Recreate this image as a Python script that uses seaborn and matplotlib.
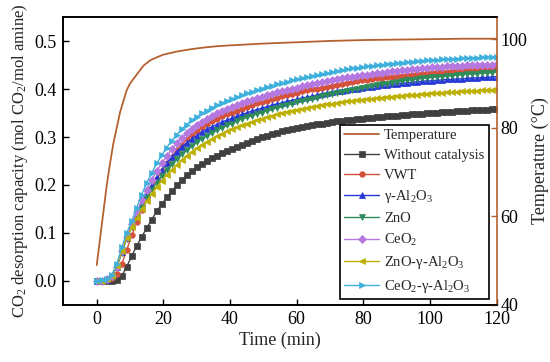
import matplotlib
matplotlib.use("Agg")
import matplotlib.pyplot as plt
import seaborn as sns
import numpy as np

sns.set_theme(style="ticks")
plt.rcParams['font.family'] = ['Liberation Serif', 'DejaVu Serif']
plt.rcParams['mathtext.fontset'] = 'custom'
plt.rcParams['mathtext.rm'] = 'Liberation Serif'
plt.rcParams['mathtext.it'] = 'Liberation Serif:italic'

time = [0, 1.5, 3, 4.5, 6, 7.5, 9, 10.5, 12, 13.5, 15, 16.5, 18, 19.5, 21, 22.5, 24, 25.5, 27, 28.5,
        30, 31.5, 33, 34.5, 36, 37.5, 39, 40.5, 42, 43.5, 45, 46.5, 48, 49.5, 51, 52.5, 54, 55.5, 57, 58.5,
        60, 61.5, 63, 64.5, 66, 67.5, 69, 70.5, 72, 73.5, 75, 76.5, 78, 79.5, 81, 82.5, 84, 85.5, 87, 88.5,
        90, 91.5, 93, 94.5, 96, 97.5, 99, 100.5, 102, 103.5, 105, 106.5, 108, 109.5, 111, 112.5, 114, 115.5,
        117, 118.5, 120]

without_catalysis = [
    0.000, 0.000, 0.000, 0.001, 0.003, 0.010, 0.030, 0.052, 0.073, 0.092,
    0.110, 0.128, 0.145, 0.160, 0.174, 0.187, 0.199, 0.210, 0.220, 0.229,
    0.237, 0.244, 0.250, 0.256, 0.261, 0.266, 0.271, 0.275, 0.279, 0.283,
    0.287, 0.291, 0.295, 0.299, 0.302, 0.306, 0.309, 0.312, 0.315, 0.317,
    0.319, 0.321, 0.323, 0.325, 0.327, 0.328, 0.330, 0.331, 0.333, 0.334,
    0.335, 0.336, 0.337, 0.338, 0.339, 0.340, 0.341, 0.342, 0.343, 0.343,
    0.344, 0.345, 0.346, 0.347, 0.348, 0.348, 0.349, 0.350, 0.351, 0.352,
    0.352, 0.353, 0.354, 0.354, 0.355, 0.356, 0.356, 0.357, 0.357, 0.358, 0.359]

vwt = [
    0.000, 0.000, 0.002, 0.006, 0.015, 0.035, 0.065, 0.095, 0.122, 0.148,
    0.172, 0.193, 0.212, 0.229, 0.245, 0.259, 0.272, 0.284, 0.295, 0.304,
    0.312, 0.320, 0.327, 0.333, 0.338, 0.343, 0.347, 0.351, 0.355, 0.359,
    0.363, 0.366, 0.370, 0.373, 0.376, 0.379, 0.382, 0.385, 0.387, 0.390,
    0.392, 0.395, 0.397, 0.399, 0.401, 0.403, 0.405, 0.407, 0.409, 0.411,
    0.413, 0.415, 0.416, 0.418, 0.419, 0.421, 0.422, 0.423, 0.425, 0.426,
    0.427, 0.428, 0.429, 0.430, 0.431, 0.432, 0.433, 0.434, 0.435, 0.436,
    0.436, 0.437, 0.438, 0.438, 0.439, 0.440, 0.440, 0.441, 0.441, 0.442, 0.443]

al2o3 = [
    0.000, 0.001, 0.003, 0.010, 0.030, 0.060, 0.090, 0.116, 0.140, 0.162,
    0.182, 0.200, 0.217, 0.232, 0.246, 0.258, 0.269, 0.279, 0.288, 0.296,
    0.303, 0.310, 0.316, 0.321, 0.326, 0.331, 0.335, 0.339, 0.343, 0.347,
    0.350, 0.354, 0.357, 0.360, 0.363, 0.366, 0.369, 0.371, 0.374, 0.376,
    0.379, 0.381, 0.383, 0.385, 0.387, 0.389, 0.391, 0.393, 0.395, 0.396,
    0.398, 0.400, 0.401, 0.403, 0.404, 0.405, 0.406, 0.408, 0.409, 0.410,
    0.411, 0.412, 0.413, 0.414, 0.415, 0.416, 0.417, 0.417, 0.418, 0.419,
    0.420, 0.420, 0.421, 0.421, 0.422, 0.423, 0.423, 0.424, 0.424, 0.425, 0.426]

zno = [
    0.000, 0.001, 0.003, 0.009, 0.028, 0.058, 0.088, 0.113, 0.135, 0.155,
    0.173, 0.190, 0.205, 0.219, 0.232, 0.243, 0.254, 0.264, 0.273, 0.281,
    0.289, 0.296, 0.302, 0.308, 0.314, 0.319, 0.324, 0.328, 0.333, 0.337,
    0.341, 0.344, 0.348, 0.351, 0.355, 0.358, 0.361, 0.364, 0.367, 0.369,
    0.372, 0.375, 0.377, 0.380, 0.382, 0.385, 0.387, 0.389, 0.392, 0.394,
    0.396, 0.398, 0.400, 0.402, 0.404, 0.406, 0.408, 0.410, 0.411, 0.413,
    0.415, 0.416, 0.418, 0.419, 0.420, 0.422, 0.423, 0.424, 0.425, 0.426,
    0.427, 0.428, 0.429, 0.430, 0.431, 0.431, 0.432, 0.433, 0.433, 0.434, 0.435]

ceo2 = [
    0.000, 0.001, 0.004, 0.010, 0.030, 0.062, 0.092, 0.118, 0.143, 0.168,
    0.190, 0.210, 0.229, 0.245, 0.260, 0.274, 0.287, 0.298, 0.308, 0.317,
    0.325, 0.332, 0.338, 0.344, 0.349, 0.354, 0.358, 0.362, 0.366, 0.370,
    0.374, 0.377, 0.381, 0.384, 0.387, 0.390, 0.393, 0.396, 0.398, 0.401,
    0.403, 0.406, 0.408, 0.410, 0.412, 0.414, 0.416, 0.418, 0.420, 0.422,
    0.424, 0.426, 0.427, 0.429, 0.430, 0.432, 0.433, 0.434, 0.435, 0.437,
    0.438, 0.439, 0.440, 0.441, 0.442, 0.443, 0.444, 0.445, 0.445, 0.446,
    0.447, 0.447, 0.448, 0.448, 0.449, 0.449, 0.450, 0.450, 0.451, 0.451, 0.452]

zno_al2o3 = [
    0.000, 0.001, 0.004, 0.011, 0.032, 0.062, 0.090, 0.112, 0.131, 0.149,
    0.166, 0.182, 0.196, 0.209, 0.221, 0.232, 0.242, 0.252, 0.261, 0.269,
    0.277, 0.284, 0.290, 0.296, 0.302, 0.307, 0.312, 0.316, 0.320, 0.324,
    0.328, 0.332, 0.335, 0.338, 0.341, 0.344, 0.347, 0.349, 0.352, 0.354,
    0.356, 0.358, 0.360, 0.362, 0.364, 0.366, 0.368, 0.369, 0.371, 0.372,
    0.374, 0.375, 0.377, 0.378, 0.379, 0.380, 0.381, 0.382, 0.383, 0.384,
    0.385, 0.386, 0.387, 0.388, 0.388, 0.389, 0.390, 0.391, 0.391, 0.392,
    0.393, 0.393, 0.394, 0.395, 0.395, 0.396, 0.396, 0.397, 0.397, 0.398, 0.399]

ceo2_al2o3 = [
    0.000, 0.002, 0.005, 0.012, 0.035, 0.070, 0.100, 0.125, 0.152, 0.180,
    0.205, 0.225, 0.245, 0.262, 0.278, 0.292, 0.305, 0.316, 0.326, 0.335,
    0.342, 0.349, 0.355, 0.361, 0.366, 0.371, 0.375, 0.379, 0.383, 0.387,
    0.391, 0.394, 0.398, 0.401, 0.404, 0.407, 0.410, 0.413, 0.415, 0.418,
    0.420, 0.423, 0.425, 0.427, 0.429, 0.431, 0.433, 0.435, 0.437, 0.439,
    0.441, 0.443, 0.444, 0.446, 0.447, 0.448, 0.450, 0.451, 0.452, 0.453,
    0.454, 0.455, 0.456, 0.457, 0.458, 0.459, 0.460, 0.460, 0.461, 0.462,
    0.462, 0.463, 0.463, 0.464, 0.464, 0.465, 0.465, 0.466, 0.466, 0.467, 0.467]

temp_time = [0, 1, 2, 3, 4, 5, 6, 7, 8, 9, 10, 11, 12, 14, 16, 18, 20, 24, 28, 32, 36, 40,
             50, 60, 70, 80, 90, 100, 110, 120]
temperature = [49, 55, 61, 67, 72, 76.5, 80, 83.5, 86, 88.5, 90, 91, 92, 94, 95.2, 95.9, 96.5, 97.2,
               97.7, 98.1, 98.4, 98.6, 99.0, 99.3, 99.6, 99.8, 99.9, 100.0, 100.1, 100.1]

series_labels = ['Without catalysis', 'VWT', 'γ-Al$_2$O$_3$', 'ZnO', 'CeO$_2$',
                 'ZnO-γ-Al$_2$O$_3$', 'CeO$_2$-γ-Al$_2$O$_3$']
series_values = [without_catalysis, vwt, al2o3, zno, ceo2, zno_al2o3, ceo2_al2o3]
colors = ['#404040', '#D4513A', '#2538D6', '#2E8B5A', '#B478E0', '#BDB000', '#3FB0DC']
markers = ['s', 'o', '^', 'v', 'D', '<', '>']
msizes = [4, 4, 4.5, 4.5, 3.6, 4.5, 4.5]
temp_color = '#B5612F'

fig = plt.figure(figsize=(5.5, 3.62), dpi=100)
ax = fig.add_axes([0.1153, 0.1575, 0.7875, 0.7955])
ax2 = ax.twinx()

sns.lineplot(x=temp_time, y=temperature, ax=ax2, color=temp_color, lw=1.3, label='Temperature', legend=False)

for lab, vals, c, m, ms in zip(series_labels, series_values, colors, markers, msizes):
    sns.lineplot(x=time, y=vals, ax=ax, color=c, marker=m, markersize=ms, markeredgecolor=c,
                 markeredgewidth=0.5, lw=1.0, label=lab, legend=False)

ax.set_xlim(-10, 120)
ax.set_ylim(-0.05, 0.55)
ax2.set_ylim(40, 105)
ax.set_xticks([0, 20, 40, 60, 80, 100, 120])
ax.set_yticks([0.0, 0.1, 0.2, 0.3, 0.4, 0.5])
ax.set_yticklabels(['0.0', '0.1', '0.2', '0.3', '0.4', '0.5'])
ax2.set_yticks([40, 60, 80, 100])

ax.set_xlabel('Time (min)', fontsize=13, labelpad=3)
ax.set_ylabel('CO$_2$ desorption capacity (mol CO$_2$/mol amine)', fontsize=12, labelpad=3)
ax2.set_ylabel('Temperature (°C)', fontsize=13, labelpad=3)

ax.tick_params(axis='both', direction='in', labelsize=13, length=4, width=1, colors='black', pad=4)
ax.tick_params(axis='y', pad=5)
ax2.tick_params(axis='y', direction='in', labelsize=13, length=4, width=1, color=temp_color,
                labelcolor='black', pad=3)
for s in ['left', 'bottom', 'top']:
    ax.spines[s].set_linewidth(1.2)
    ax.spines[s].set_color('black')
    ax2.spines[s].set_linewidth(1.2)
    ax2.spines[s].set_color('black')
ax2.spines['right'].set_color(temp_color)
ax2.spines['right'].set_linewidth(1.2)
ax.spines['right'].set_visible(False)

h1, l1 = ax2.get_legend_handles_labels()
h2, l2 = ax.get_legend_handles_labels()
leg = ax2.legend(h1 + h2, l1 + l2, loc='lower right', bbox_to_anchor=(0.982, 0.02),
                 borderaxespad=0, fontsize=10.5, frameon=True, fancybox=False, framealpha=1,
                 edgecolor='black', handlelength=2.4, handletextpad=0.35, labelspacing=0.45,
                 borderpad=0.3)
leg.get_frame().set_linewidth(1.2)

fig.savefig('out.png', dpi=100)
